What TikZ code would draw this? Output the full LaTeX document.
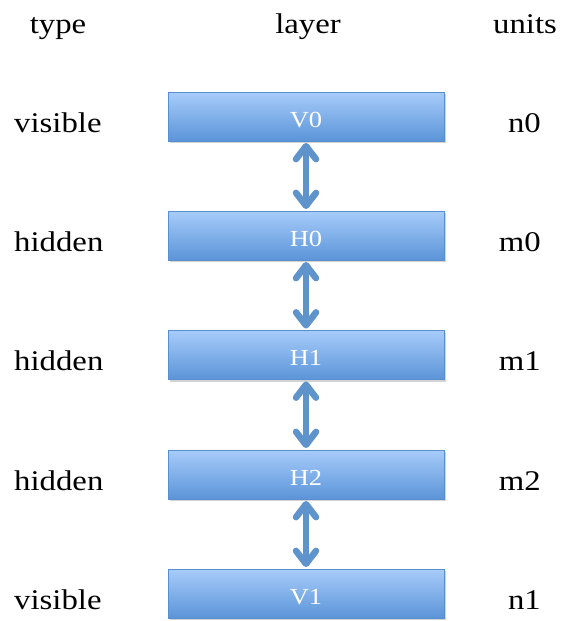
\documentclass[tikz,border=0pt]{standalone}
\usepackage{fontspec}
\setmainfont{Liberation Serif}[FakeStretch=1.15]
\usetikzlibrary{arrows.meta,shadows}
\definecolor{boxtop}{HTML}{A7CCFA}
\definecolor{boxbot}{HTML}{5B94D8}
\definecolor{boxline}{HTML}{5A8FCF}
\definecolor{arrowc}{HTML}{5E93CB}
\tikzset{
  layerbox/.style={draw=boxline, line width=0.8pt, top color=boxtop, bottom color=boxbot,
    minimum width=276pt, minimum height=49pt, inner sep=0pt,
    text=white, font=\fontsize{23}{26}\selectfont,
    drop shadow={opacity=0.35, shadow xshift=1.5pt, shadow yshift=-2pt}},
  boxtext/.style={text=white, font=\fontsize{23}{26}\selectfont, inner sep=0pt, anchor=base},
  lbl/.style={font=\fontsize{28.5}{32}\selectfont, text=black, inner sep=0pt},
  link/.style={draw=arrowc, line width=6.5pt, line cap=round,
    {Straight Barb[length=13pt,width=20pt,round]}-{Straight Barb[length=13pt,width=20pt,round]},
    shorten <=1.5pt, shorten >=1.5pt}
}
\begin{document}
\begin{tikzpicture}[x=1pt,y=-1pt]
\useasboundingbox (0,0) rectangle (569,621);
\node[lbl, anchor=base] (htype) at (58,33) {type};
\node[lbl, anchor=base] (hlayer) at (308,33) {layer};
\node[lbl, anchor=base] (hunits) at (525,33) {units};

\node[layerbox] (v0) at (306,116.5) {};
\node[layerbox] (h0) at (306,235.5) {};
\node[layerbox] (h1) at (306,355) {};
\node[layerbox] (h2) at (306,474.5) {};
\node[layerbox] (v1) at (306,593.5) {};
\node[boxtext] (v0t) at (306,127) {V0};
\node[boxtext] (h0t) at (306,246) {H0};
\node[boxtext] (h1t) at (306,365.5) {H1};
\node[boxtext] (h2t) at (306,485) {H2};
\node[boxtext] (v1t) at (306,604) {V1};

\foreach \n/\t/\y in {tv0/visible/132, th0/hidden/251, th1/hidden/370.5, th2/hidden/490, tv1/visible/609}
  \node[lbl, anchor=base west] (\n) at (14,\y) {\t};
\foreach \n/\t/\y in {uv0/n0/132, uh0/m0/251, uh1/m1/370.5, uh2/m2/490, uv1/n1/609}
  \node[lbl, anchor=base east] (\n) at (541,\y) {\t};

\draw[link] (v0.south) -- (h0.north);
\draw[link] (h0.south) -- (h1.north);
\draw[link] (h1.south) -- (h2.north);
\draw[link] (h2.south) -- (v1.north);
\end{tikzpicture}
\end{document}
